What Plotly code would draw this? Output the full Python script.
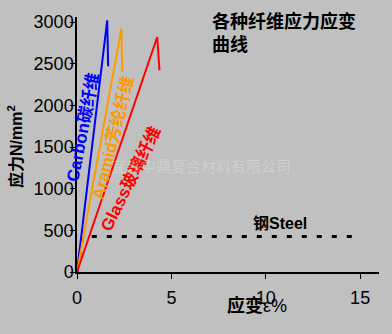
import plotly.graph_objects as go

# Data (strain %, stress N/mm^2)
carbon_x = [0, 1.6, 1.65]
carbon_y = [0, 3020, 2470]
aramid_x = [0, 2.35, 2.4]
aramid_y = [0, 2920, 2400]
glass_x = [0, 4.25, 4.37]
glass_y = [0, 2820, 2420]
steel_x = [0, 0.3, 14.9]
steel_y = [0, 425, 425]

x_ticks = [0, 5, 10, 15]
y_ticks = [0, 500, 1000, 1500, 2000, 2500, 3000]

FONT = "Liberation Sans, Arial, Noto Sans CJK SC, sans-serif"
CJK = "Liberation Sans, Noto Sans CJK SC, sans-serif"

fig = go.Figure()
fig.add_trace(go.Scatter(x=steel_x, y=steel_y, mode="lines",
                         line=dict(color="black", width=3, dash="5px,10px")))
fig.add_trace(go.Scatter(x=carbon_x, y=carbon_y, mode="lines",
                         line=dict(color="#0000FF", width=2)))
fig.add_trace(go.Scatter(x=aramid_x, y=aramid_y, mode="lines",
                         line=dict(color="#FF9900", width=2)))
fig.add_trace(go.Scatter(x=glass_x, y=glass_y, mode="lines",
                         line=dict(color="#FF0000", width=2)))

anns = [
    dict(x=0.32, y=1736, text="Carbon碳纤维", textangle=-79,
         font=dict(color="#0000FF", size=17, family=CJK, weight="bold")),
    dict(x=1.91, y=1606, text="Aramid芳纶纤维", textangle=-76,
         font=dict(color="#FF9900", size=17, family=CJK, weight="bold")),
    dict(x=2.81, y=1122, text="Glass玻璃纤维", textangle=-63.5,
         font=dict(color="#FF0000", size=17, family=CJK, weight="bold")),
    dict(x=10.77, y=579, text="钢Steel",
         font=dict(color="black", size=16, family=CJK, weight="bold")),
]
for a in anns:
    fig.add_annotation(xref="x", yref="y", showarrow=False,
                       xanchor="center", yanchor="middle", **a)

# title
fig.add_annotation(xref="paper", yref="paper", x=(210 - 77) / 302, y=1 + (13 - 5) / 259,
                   xanchor="left", yanchor="top", align="left", showarrow=False,
                   text="各种纤维应力应变<br>曲线",
                   font=dict(color="black", size=18, family=CJK, weight="bold"))
# y axis title
fig.add_annotation(xref="paper", yref="paper", x=(15 - 77) / 302, y=(272 - 145) / 259,
                   xanchor="center", yanchor="middle", showarrow=False, textangle=-90,
                   text="应力N/mm<sup>2</sup>",
                   font=dict(color="black", size=16, family=CJK, weight="bold"))
# x axis title
fig.add_annotation(xref="paper", yref="paper", x=(257 - 77) / 302, y=(272 - 306) / 259,
                   xanchor="center", yanchor="middle", showarrow=False,
                   text="<b>应变</b>ε%",
                   font=dict(color="black", size=18, family=CJK))
# watermark
fig.add_annotation(xref="paper", yref="paper", x=(201 - 77) / 302, y=(272 - 165) / 259,
                   xanchor="center", yanchor="middle", showarrow=False,
                   text="宜兴中鼎复合材料有限公司",
                   font=dict(color="rgba(255,255,255,0.25)", size=15, family=CJK))

fig.update_layout(
    width=392, height=334,
    margin=dict(l=77, r=13, t=13, b=62),
    paper_bgcolor="#C0C0C0", plot_bgcolor="#C0C0C0",
    showlegend=False,
    font=dict(family=FONT, color="black"),
)
fig.update_xaxes(range=[0, 16], tickvals=x_ticks, showgrid=False, zeroline=False,
                 showline=True, linecolor="black", linewidth=1.5,
                 ticks="outside", ticklen=5, tickcolor="black", tickwidth=1,
                 tickfont=dict(size=18, family=FONT, color="black"),
                 ticklabelstandoff=4)
fig.update_yaxes(range=[0, 3060], tickvals=y_ticks, showgrid=False, zeroline=False,
                 showline=True, linecolor="black", linewidth=1.5,
                 ticks="outside", ticklen=5, tickcolor="black", tickwidth=1,
                 tickfont=dict(size=18, family=FONT, color="black"),
                 ticklabelstandoff=-7)

fig.write_html("out.html")
